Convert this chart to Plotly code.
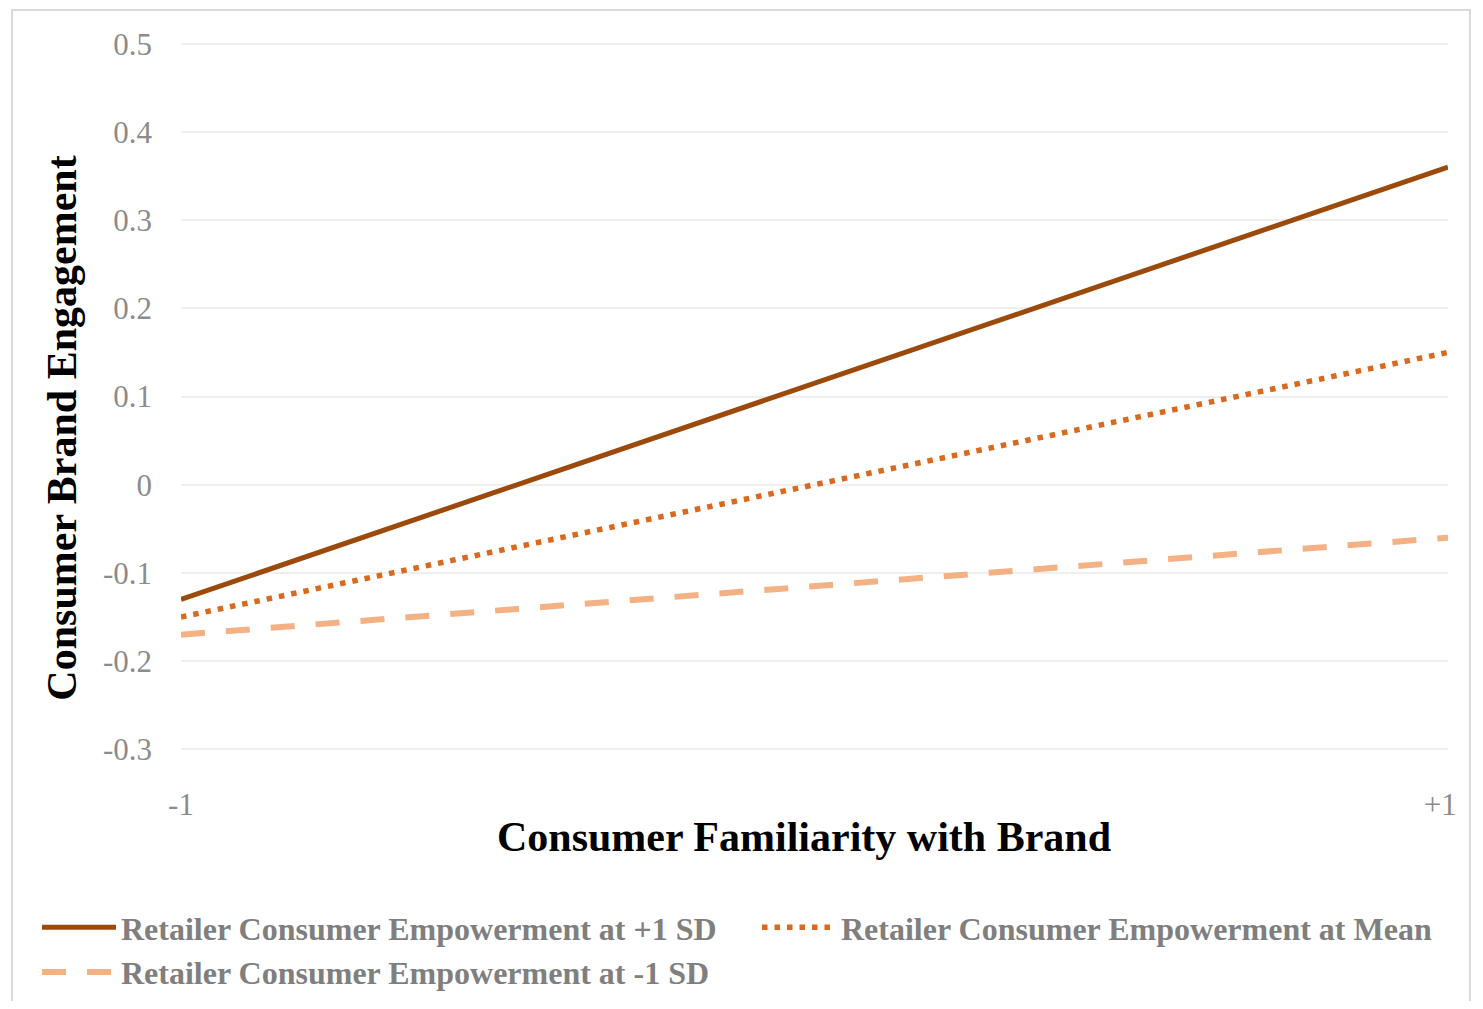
import plotly.graph_objects as go

# Data
categories = ["-1", "+1"]
x_tick_labels = ["-1", "+1\u00a0\u00a0"]
series_names = [
    "Retailer Consumer Empowerment at +1 SD",
    "Retailer Consumer Empowerment at Mean",
    "Retailer Consumer Empowerment at -1 SD",
]
high_sd = [-0.13, 0.36]
mean_vals = [-0.15, 0.15]
low_sd = [-0.17, -0.06]
y_ticks = [-0.3, -0.2, -0.1, 0, 0.1, 0.2, 0.3, 0.4, 0.5]
y_tick_labels = ["-0.3", "-0.2", "-0.1", "0", "0.1", "0.2", "0.3", "0.4", "0.5"]

FONT = "Liberation Serif, Times New Roman, serif"

fig = go.Figure()
fig.add_trace(go.Scatter(x=categories, y=high_sd, name=series_names[0], mode="lines",
                         line=dict(color="#9C4A0C", width=5)))
fig.add_trace(go.Scatter(x=categories, y=mean_vals, name=series_names[1], mode="lines",
                         line=dict(color="#D9691E", width=5.5, dash="5.5px,7px")))
fig.add_trace(go.Scatter(x=categories, y=low_sd, name=series_names[2], mode="lines",
                         line=dict(color="#F4B183", width=6, dash="24px,21px")))

# page offset (browser body margin)
OFF = 8
PAGE_W, PAGE_H = 1483, 1009
W, H = PAGE_W - 2 * OFF, PAGE_H - 2 * OFF
# plot area in page pixels
L, R, T, B = 181, 1448, 41, 752

def px_x(p):
    return (p - L) / (R - L)

def px_y(p):
    return (B - p) / (B - T)

NB = "\u00a0"

fig.update_layout(
    width=W, height=H,
    margin=dict(l=L - OFF, r=W - (R - OFF), t=T - OFF, b=H - (B - OFF), pad=0, autoexpand=False),
    paper_bgcolor="white", plot_bgcolor="white",
    font=dict(family=FONT, color="#808080"),
    xaxis=dict(type="category", range=[0, 1], showgrid=False, zeroline=False,
               tickvals=categories, ticktext=x_tick_labels,
               showline=False, ticks="", tickfont=dict(size=31, color="#8c8c8c"),
               ticklabelstandoff=31,
               title=dict(text="<b>Consumer Familiarity with Brand" + NB * 2 + "</b>",
                          font=dict(size=42, color="black", family=FONT), standoff=0)),
    yaxis=dict(range=[-0.303, 0.503], tickvals=y_ticks, ticktext=y_tick_labels,
               showgrid=True, gridcolor="#efefef", gridwidth=1.5, zeroline=False,
               showline=False, ticks="", tickfont=dict(size=31, color="#8c8c8c"),
               ticklabelstandoff=28,
               title=dict(text="<b>Consumer Brand Engagement" + NB * 6 + "</b>",
                          font=dict(size=42, color="black", family=FONT), standoff=13)),
    legend=dict(orientation="h", x=px_x(37), xanchor="left", y=px_y(900), yanchor="top",
                font=dict(size=32, color="#7f7f7f", family=FONT, weight="bold"),
                itemwidth=74, entrywidth=631, entrywidthmode="pixels",
                tracegroupgap=0, bgcolor="rgba(0,0,0,0)"),
    shapes=[dict(type="rect", xref="paper", yref="paper",
                 x0=px_x(12), x1=px_x(1470), y0=px_y(1005), y1=px_y(10),
                 line=dict(color="#d9d9d9", width=2), fillcolor="rgba(0,0,0,0)", layer="below")],
    showlegend=True,
)

fig.write_html("out.html")
